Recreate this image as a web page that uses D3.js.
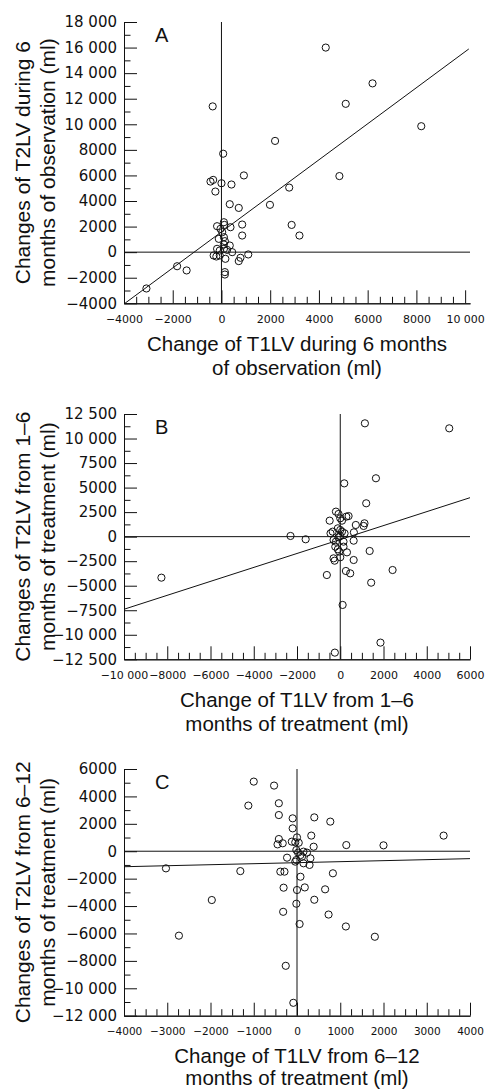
<!DOCTYPE html>
<html><head><meta charset="utf-8">
<script src="https://cdn.jsdelivr.net/npm/d3@7"></script>
<style>body{margin:0;background:#fff}svg{display:block}</style>
</head><body>
<script>
// ---------- data ----------
const pointsA = [[4280,16000],[6200,13200],[5100,11600],[-360,11400],[8200,9850],[2200,8700],[70,7700],
[920,6000],[4840,5950],[-340,5650],[-450,5520],[0,5390],[410,5290],[-250,4740],[2780,5050],
[340,3750],[710,3460],[1990,3700],[2880,2130],[3200,1300],
[-180,2030],[100,2340],[120,2130],[370,1950],[850,2160],[850,1300],[-40,1820],[30,1560],
[-110,1040],[100,1170],[140,860],[100,600],[340,520],[-180,260],[-70,130],[100,260],[230,180],[440,0],
[-320,-260],[-210,-340],[-70,-260],[160,-520],[780,-440],[710,-700],[1100,-180],[140,-1560],[140,-1750],
[-1820,-1100],[-1430,-1430],[-3080,-2840]];
const pointsB = [[1140,11550],[5040,11040],[1650,5950],[185,5430],[1200,3400],[-2300,70],[-1600,-270],
[-8270,-4180],[110,-6960],[1860,-10800],[-250,-11820],
[-200,2550],[-80,2310],[-490,1630],[0,1870],[80,1630],[385,2100],[280,2040],[720,1190],[1120,1360],[1080,1090],
[-350,510],[-450,340],[-110,850],[0,680],[80,510],[200,340],[630,440],
[-310,-340],[-200,-510],[-80,-70],[0,70],[150,-510],[620,-410],
[-230,-1020],[-110,-1290],[-50,-1530],[150,-1020],[310,-1600],[0,-2100],[-310,-2210],[-260,-2450],
[1360,-1460],[620,-2380],[260,-3500],[460,-3740],[-620,-3910],[1430,-4690],[2420,-3400]];
const pointsC = [[-1000,5080],[-530,4790],[-1125,3330],[-420,3500],[3390,1140],[2000,430],[-3030,-1250],
[-1310,-1450],[-1970,-3560],[-2730,-6160],[400,-3540],[-15,-3830],[-320,-4420],[730,-4620],[60,-5310],
[1130,-5490],[1800,-6240],[-260,-8360],[-85,-11060],
[-420,2640],[-100,2400],[400,2470],[770,2160],[-100,1670],[330,1140],[-420,890],[-450,500],[-330,580],
[-120,700],[-40,650],[0,1010],[40,620],[385,330],[1140,450],[-15,90],[25,-100],[80,-280],[150,-30],
[230,-100],[115,-400],[-230,-470],[-15,-640],[310,-520],[150,-880],[290,-1000],[-40,-760],
[-385,-1490],[-290,-1490],[80,-1860],[830,-1610],[-310,-2660],[0,-2830],[180,-2640],[650,-2780]];
const fitA = [[-3990,-4040],[10150,15890]];
const fitB = [[-10000,-7400],[6000,3970]];
const fitC = [[-4000,-1130],[4000,-540]];

const xTicksA = d3.range(-4000, 10001, 2000), yTicksA = d3.range(-4000, 18001, 2000);
const xTicksB = d3.range(-10000, 6001, 2000), yTicksB = d3.range(-12500, 12501, 2500);
const xTicksC = d3.range(-4000, 4001, 1000),  yTicksC = d3.range(-12000, 6001, 2000);

const titlesA = {letter:"A", x:["Change of T1LV during 6 months","of observation (ml)"], y:["Changes of T2LV during 6","months of observation (ml)"]};
const titlesB = {letter:"B", x:["Change of T1LV from 1\u20136","months of treatment (ml)"], y:["Changes of T2LV from 1\u20136","months of treatment (ml)"]};
const titlesC = {letter:"C", x:["Change of T1LV from 6\u201312","months of treatment (ml)"], y:["Changes of T2LV from 6\u201312","months of treatment (ml)"]};

// ---------- layout ----------
const W = 489, H = 1090;
const svg = d3.select("body").append("svg").attr("width", W).attr("height", H);
const X0 = 124, X1 = 470;
const TICKFONT = "'DejaVu Sans', sans-serif";
const TITLEFONT = "'Liberation Sans', Arial, sans-serif";

function fmt(v){
  const a = Math.abs(v);
  let s = String(a);
  if (a >= 10000) s = s.slice(0, s.length-3) + " " + s.slice(-3);
  return (v < 0 ? "\u2212" : "") + s;
}

function panel(o){
  const x = d3.scaleLinear().domain(o.xd).range([X0, X1]);
  const y = d3.scaleLinear().domain(o.yd).range([o.bottom, o.top]);
  const g = svg.append("g");

  // minor ticks
  const xMinor = d3.range(o.xd[0], o.xd[1] + 1, o.xMinorStep).filter(v => !o.xTicks.includes(v) && v <= o.xTicks[o.xTicks.length-1]);
  const yMinor = d3.range(o.yd[0], o.yd[1] + 1, o.yMinorStep).filter(v => !o.yTicks.includes(v));
  g.append("g").attr("transform", `translate(0,${o.bottom})`)
    .call(d3.axisBottom(x).tickValues(xMinor).tickSize(-6.5).tickSizeOuter(0).tickFormat(""));
  g.append("g").attr("transform", `translate(${X0},0)`)
    .call(d3.axisLeft(y).tickValues(yMinor).tickSize(-6.5).tickSizeOuter(0).tickFormat(""));

  // major axes
  const xa = g.append("g").attr("transform", `translate(0,${o.bottom})`)
    .call(d3.axisBottom(x).tickValues(o.xTicks).tickSize(-13).tickSizeOuter(0).tickPadding(12).tickFormat(fmt));
  xa.selectAll("text").style("font-family", TICKFONT).style("font-size", o.xFont + "px").attr("fill", "#111");
  const ya = g.append("g").attr("transform", `translate(${X0},0)`)
    .call(d3.axisLeft(y).tickValues(o.yTicks).tickSize(-13).tickSizeOuter(0).tickPadding(7).tickFormat(fmt));
  ya.selectAll("text").style("font-family", TICKFONT).style("font-size", "15px").attr("fill", "#111");
  g.selectAll(".domain, .tick line").attr("stroke", "#111").attr("stroke-width", 1);

  // zero lines
  g.append("line").attr("x1", x(0)).attr("x2", x(0)).attr("y1", o.top).attr("y2", o.bottom)
    .attr("stroke", "#111").attr("stroke-width", 1);
  g.append("line").attr("x1", X0).attr("x2", X1).attr("y1", y(0)).attr("y2", y(0))
    .attr("stroke", "#111").attr("stroke-width", 1);

  // regression line
  g.append("path").datum(o.fit).attr("d", d3.line().x(d => x(d[0])).y(d => y(d[1])))
    .attr("stroke", "#111").attr("stroke-width", 1).attr("fill", "none");

  // points
  g.selectAll("circle.pt").data(o.points).join("circle").attr("class", "pt")
    .attr("cx", d => x(d[0])).attr("cy", d => y(d[1])).attr("r", 3.6)
    .attr("fill", "none").attr("stroke", "#111").attr("stroke-width", 1);

  // letter
  g.append("text").attr("x", 155).attr("y", o.top + 20).text(o.titles.letter)
    .style("font-family", TITLEFONT).style("font-size", "20px").attr("fill", "#111");

  // x title
  o.titles.x.forEach((t, i) => {
    g.append("text").attr("x", (X0 + X1) / 2).attr("y", o.bottom + o.xt1 + i * o.xtGap)
      .attr("text-anchor", "middle").text(t)
      .style("font-family", TITLEFONT).style("font-size", "20.5px").attr("fill", "#111");
  });
  // y title
  const cy = (o.top + o.bottom) / 2;
  const yt = g.append("g").attr("transform", `translate(30,${cy}) rotate(-90)`);
  o.titles.y.forEach((t, i) => {
    yt.append("text").attr("x", 0).attr("y", i * 25).attr("text-anchor", "middle").text(t)
      .style("font-family", TITLEFONT).style("font-size", "21px").attr("fill", "#111");
  });
}

panel({xd:[-4000,10200], yd:[-4000,18000], top:22, bottom:303.3, xTicks:xTicksA, yTicks:yTicksA,
  xMinorStep:500, yMinorStep:1000, xFont:11, points:pointsA, fit:fitA, titles:titlesA, xt1:48, xtGap:24});
panel({xd:[-10000,6000], yd:[-12500,12500], top:414, bottom:659.3, xTicks:xTicksB, yTicks:yTicksB,
  xMinorStep:500, yMinorStep:1250, xFont:11, points:pointsB, fit:fitB, titles:titlesB, xt1:48, xtGap:24});
panel({xd:[-4000,4000], yd:[-12000,6000], top:769, bottom:1015.7, xTicks:xTicksC, yTicks:yTicksC,
  xMinorStep:250, yMinorStep:1000, xFont:10.5, points:pointsC, fit:fitC, titles:titlesC, xt1:47, xtGap:22});
</script>
</body></html>
